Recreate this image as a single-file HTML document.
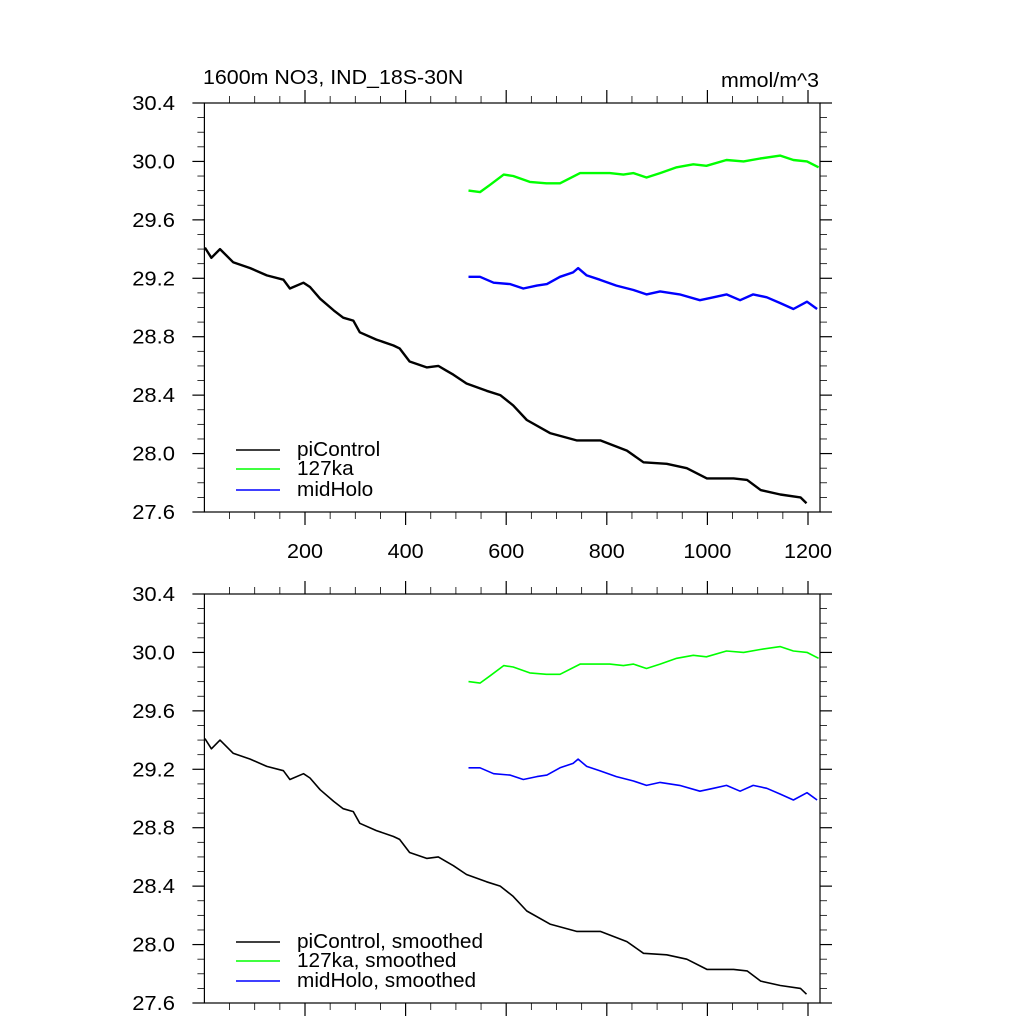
<!DOCTYPE html>
<html><head><meta charset="utf-8"><style>
body{margin:0;background:#fff}
svg{display:block}
text{font-family:"Liberation Sans",sans-serif;fill:#000}
</style></head><body>
<svg id="chart" width="1024" height="1024" viewBox="0 0 1024 1024" xmlns="http://www.w3.org/2000/svg">
<text transform="translate(203,84) scale(1.07,1)" font-size="20">1600m NO3, IND_18S-30N</text>
<text transform="translate(819,87) scale(1.07,1)" font-size="20" text-anchor="end">mmol/m^3</text>
</svg>
<script>
const xTicks=[200,400,600,800,1000,1200];
const yTicks=[27.6,28.0,28.4,28.8,29.2,29.6,30.0,30.4];
const piYears=[1,14,31,57,91,124,157,170,197,210,230,257,276,296,309,342,376,388,408,442,465,480,495,521,561,588,614,641,687,740,787,840,873,919,959,999,1052,1079,1106,1145,1185,1197];
const piVals=[29.41,29.34,29.40,29.31,29.27,29.22,29.19,29.13,29.17,29.14,29.06,28.98,28.93,28.91,28.83,28.78,28.74,28.72,28.63,28.59,28.60,28.57,28.54,28.48,28.43,28.40,28.33,28.23,28.14,28.09,28.09,28.02,27.94,27.93,27.90,27.83,27.83,27.82,27.75,27.72,27.70,27.66];
const kaYears=[525,548,568,595,614,647,680,707,747,773,806,833,853,879,906,939,972,998,1038,1072,1105,1145,1171,1198,1221];
const kaVals=[29.80,29.79,29.84,29.91,29.90,29.86,29.85,29.85,29.92,29.92,29.92,29.91,29.92,29.89,29.92,29.96,29.98,29.97,30.01,30.00,30.02,30.04,30.01,30.00,29.96];
const mhYears=[525,548,575,608,634,661,681,707,733,743,760,786,819,853,879,906,945,985,1012,1038,1065,1091,1118,1145,1171,1198,1218];
const mhVals=[29.21,29.21,29.17,29.16,29.13,29.15,29.16,29.21,29.24,29.27,29.22,29.19,29.15,29.12,29.09,29.11,29.09,29.05,29.07,29.09,29.05,29.09,29.07,29.03,28.99,29.04,28.99];

const NS="http://www.w3.org/2000/svg";
const svg=document.getElementById('chart');
const X0=204.4,X1=820,XMIN=0,XMAX=(820-204.4)/0.503;
const xs=v=>X0+(v-XMIN)*(X1-X0)/(XMAX-XMIN);
function mk(tag,attrs,parent){const e=document.createElementNS(NS,tag);for(const k in attrs)e.setAttribute(k,attrs[k]);(parent||svg).appendChild(e);return e;}

function panel(top,bottom,showX,names,idx){
  const ys=v=>top+(30.4-v)*(bottom-top)/2.8;
  const g=mk('g',{});
  
  
  const box=mk('rect',{x:X0,y:top,width:X1-X0,height:bottom-top,fill:'none',stroke:'#000','stroke-width':1.2},g);
  
  
  for(let v=50;v<=1200;v+=50){
    const maj=v%200===0, L=maj?13:7, x=xs(v);
    const t1=mk('line',{x1:x,y1:top,x2:x,y2:top-L,stroke:'#000','stroke-width':maj?1.2:0.8},g);
    
    
    const t2=mk('line',{x1:x,y1:bottom,x2:x,y2:bottom+L,stroke:'#000','stroke-width':maj?1.2:0.8},g);
    
    
  }
  if(showX){xTicks.forEach(v=>{const t=mk('text',{transform:'translate('+xs(v)+',558) scale(1.08,1)','font-size':20,'text-anchor':'middle'},g);t.textContent=v;
    
    });}
  for(let i=0;i<=28;i++){
    const v=27.6+i*0.1, maj=i%4===0, L=maj?12:7, y=ys(v);
    const t1=mk('line',{x1:X0,y1:y,x2:X0-L,y2:y,stroke:'#000','stroke-width':maj?1.2:0.8},g);
    
    
    const t2=mk('line',{x1:X1,y1:y,x2:X1+L,y2:y,stroke:'#000','stroke-width':maj?1.2:0.8},g);
    
    
  }
  yTicks.forEach(v=>{const t=mk('text',{transform:'translate(175,'+(ys(v)+7)+') scale(1.1,1)','font-size':20,'text-anchor':'end'},g);t.textContent=v.toFixed(1);
    
    });
  const series=[[piYears,piVals,'#000'],[kaYears,kaVals,'#00ff00'],[mhYears,mhVals,'#0000ff']];
  series.forEach((s,k)=>{
    const pts=s[0].map((yr,i)=>xs(yr).toFixed(1)+','+ys(s[1][i]).toFixed(1)).join(' ');
    const p=mk('polyline',{points:pts,fill:'none',stroke:s[2],'stroke-width':idx===1?2.4:1.6,'stroke-linejoin':'round'},g);
    
    
    const ly=(idx===1?[450,469,490]:[942,961,981])[k];
    const l=mk('line',{x1:236,y1:ly,x2:280,y2:ly,stroke:s[2],'stroke-width':1.4},g);
    
    
    const t=mk('text',{transform:'translate(297,'+(ly+6)+') scale(1.04,1)','font-size':20},g);t.textContent=names[k];
    
    
  });
}
panel(103,512,true,['piControl','127ka','midHolo'],1);
panel(594,1003,false,['piControl, smoothed','127ka, smoothed','midHolo, smoothed'],2);
</script>
</body></html>
